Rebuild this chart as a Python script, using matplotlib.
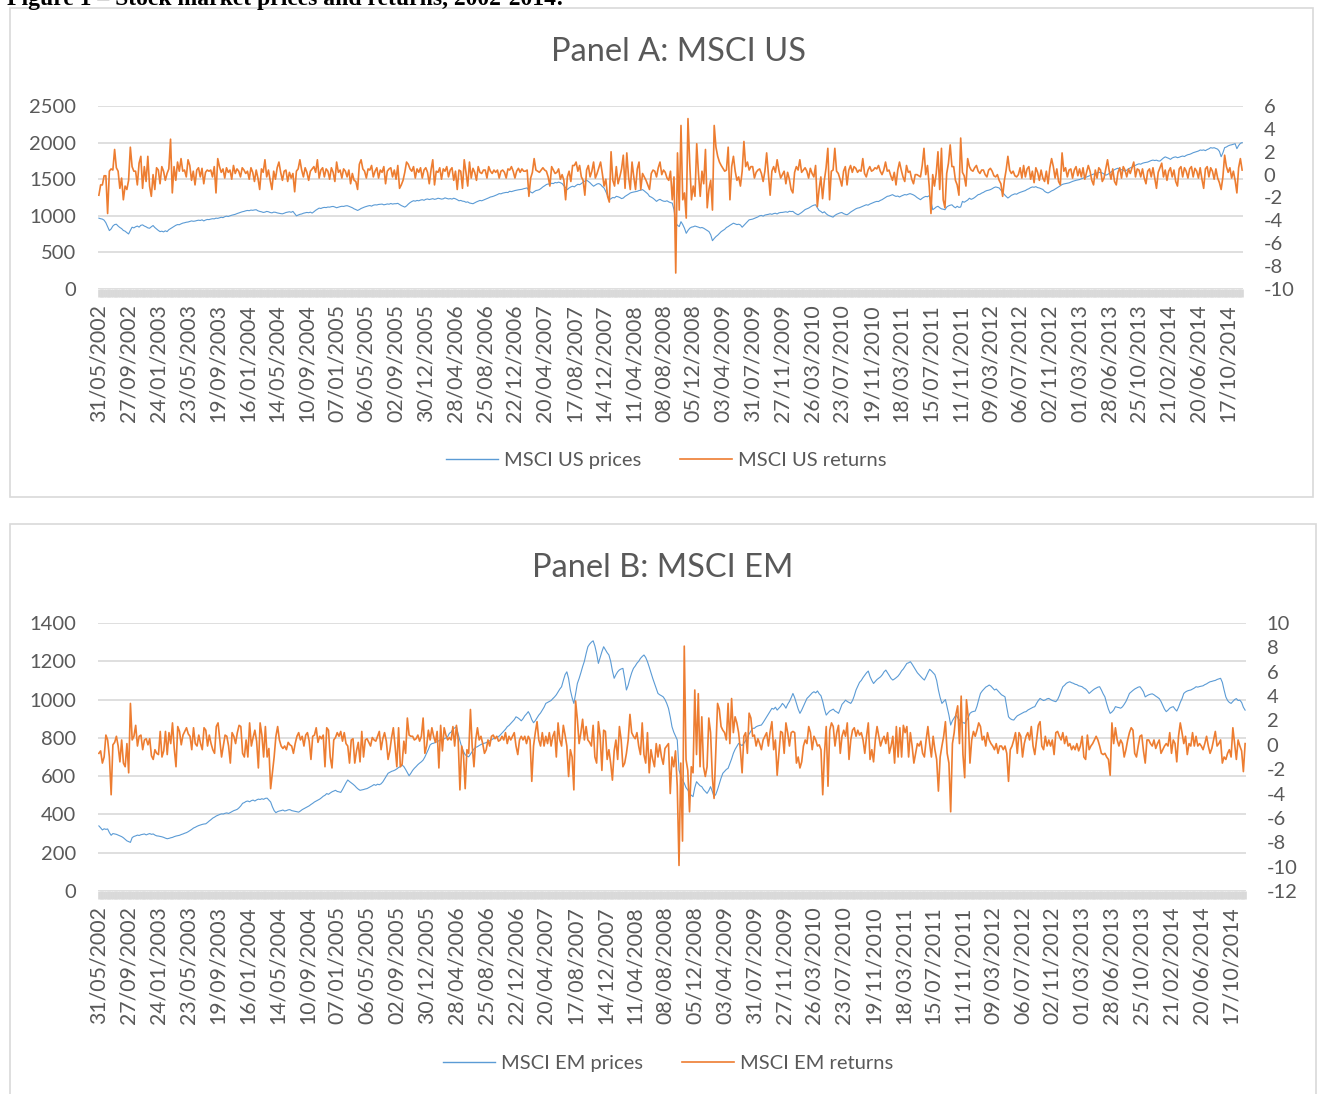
import matplotlib
matplotlib.use('Agg')
import matplotlib.pyplot as plt
from matplotlib.patches import Rectangle
from matplotlib.lines import Line2D
import numpy as np

plt.rcParams['font.family'] = ['Lato', 'DejaVu Sans']
plt.rcParams['axes.unicode_minus'] = False

# category labels shown on the x axis (every 17th week)
tick_labels = ['31/05/2002', '27/09/2002', '24/01/2003', '23/05/2003', '19/09/2003',
               '16/01/2004', '14/05/2004', '10/09/2004', '07/01/2005', '06/05/2005',
               '02/09/2005', '30/12/2005', '28/04/2006', '25/08/2006', '22/12/2006',
               '20/04/2007', '17/08/2007', '14/12/2007', '11/04/2008', '08/08/2008',
               '05/12/2008', '03/04/2009', '31/07/2009', '27/11/2009', '26/03/2010',
               '23/07/2010', '19/11/2010', '18/03/2011', '15/07/2011', '11/11/2011',
               '09/03/2012', '06/07/2012', '02/11/2012', '01/03/2013', '28/06/2013',
               '25/10/2013', '21/02/2014', '20/06/2014', '17/10/2014']
tick_step = 17

# weekly MSCI US prices
us_prices = [
    968, 960, 955, 940, 905, 850, 798, 820, 860, 880, 885, 860, 840, 825, 800, 790, 770,
    752, 800, 844, 835, 850, 860, 845, 870, 876, 860, 850, 835, 830, 850, 867, 840, 820,
    800, 784, 790, 780, 795, 784, 810, 825, 840, 855, 870, 880, 878, 890, 900, 905, 912,
    915, 922, 930, 925, 928, 935, 940, 936, 945, 930, 942, 950, 948, 955, 960, 958, 968,
    965, 972, 980, 975, 988, 995, 990, 1000, 1008, 1014, 1020, 1030, 1038, 1045, 1055, 1060, 1068,
    1073, 1070, 1078, 1075, 1080, 1083, 1068, 1060, 1055, 1046, 1050, 1060, 1055, 1045, 1040, 1050, 1048,
    1040, 1035, 1030, 1027, 1035, 1045, 1050, 1055, 1048, 1060, 1030, 1000, 1010, 1020, 1025, 1035, 1040,
    1046, 1042, 1050, 1037, 1055, 1075, 1090, 1105, 1100, 1110, 1115, 1112, 1120, 1118, 1125, 1128, 1120,
    1110, 1118, 1125, 1130, 1128, 1135, 1138, 1130, 1120, 1110, 1095, 1085, 1073, 1085, 1100, 1110, 1120,
    1128, 1135, 1140, 1132, 1145, 1150, 1148, 1155, 1158, 1160, 1150, 1155, 1162, 1158, 1168, 1160, 1165,
    1165, 1170, 1155, 1140, 1130, 1119, 1135, 1160, 1180, 1195, 1206, 1200, 1210, 1205, 1215, 1220, 1212,
    1225, 1230, 1222, 1228, 1234, 1225, 1230, 1240, 1235, 1228, 1232, 1245, 1238, 1230, 1235, 1228, 1240,
    1232, 1220, 1205, 1210, 1200, 1197, 1185, 1190, 1175, 1170, 1165, 1178, 1190, 1200, 1210, 1205, 1215,
    1225, 1235, 1245, 1257, 1262, 1270, 1280, 1290, 1303, 1300, 1310, 1315, 1320, 1318, 1335, 1330, 1338,
    1345, 1350, 1355, 1358, 1362, 1370, 1375, 1381, 1340, 1325, 1312, 1330, 1345, 1350, 1358, 1375, 1395,
    1410, 1427, 1435, 1430, 1445, 1440, 1455, 1450, 1460, 1452, 1440, 1410, 1385, 1358, 1380, 1395, 1404,
    1395, 1415, 1430, 1425, 1440, 1460, 1475, 1486, 1470, 1450, 1425, 1404, 1420, 1435, 1440, 1427, 1400,
    1380, 1330, 1275, 1220, 1235, 1250, 1245, 1266, 1260, 1250, 1235, 1243, 1265, 1280, 1295, 1312, 1320,
    1325, 1330, 1335, 1345, 1350, 1358, 1340, 1320, 1300, 1266, 1255, 1240, 1220, 1197, 1215, 1225, 1210,
    1200, 1197, 1205, 1190, 1180, 1174, 1083, 899, 870, 853, 920, 880, 830, 761, 800, 830, 845,
    850, 860, 853, 845, 835, 840, 830, 815, 800, 784, 740, 660, 690, 716, 735, 760, 784,
    800, 815, 840, 853, 870, 885, 899, 890, 880, 885, 875, 844, 870, 895, 920, 945, 950,
    955, 965, 975, 985, 1000, 1005, 995, 1010, 1015, 1020, 1027, 1020, 1030, 1035, 1025, 1040, 1045,
    1046, 1050, 1055, 1048, 1062, 1058, 1060, 1040, 1025, 1014, 1030, 1045, 1065, 1085, 1095, 1105, 1120,
    1135, 1145, 1151, 1110, 1073, 1060, 1040, 1055, 1030, 1010, 1000, 990, 982, 1005, 1020, 1030, 1040,
    1045, 1030, 1020, 1014, 1030, 1050, 1065, 1080, 1095, 1105, 1110, 1120, 1130, 1140, 1151, 1145, 1160,
    1170, 1180, 1190, 1197, 1195, 1210, 1220, 1235, 1250, 1266, 1270, 1280, 1289, 1275, 1265, 1270, 1257,
    1270, 1280, 1290, 1285, 1295, 1303, 1295, 1285, 1270, 1250, 1235, 1220, 1240, 1255, 1265, 1260, 1275,
    1200, 1083, 1100, 1120, 1130, 1110, 1095, 1090, 1083, 1120, 1135, 1145, 1150, 1125, 1110, 1130, 1115,
    1120, 1197, 1185, 1200, 1215, 1240, 1225, 1235, 1250, 1270, 1289, 1295, 1310, 1320, 1335, 1345, 1350,
    1358, 1370, 1385, 1394, 1388, 1380, 1350, 1320, 1290, 1265, 1243, 1260, 1280, 1290, 1300, 1295, 1310,
    1320, 1328, 1335, 1345, 1360, 1370, 1385, 1394, 1390, 1398, 1385, 1380, 1370, 1360, 1335, 1320, 1312,
    1325, 1340, 1350, 1365, 1380, 1395, 1410, 1427, 1435, 1440, 1445, 1450, 1460, 1470, 1478, 1485, 1490,
    1495, 1505, 1515, 1520, 1530, 1540, 1550, 1560, 1570, 1578, 1585, 1590, 1596, 1585, 1570, 1555, 1564,
    1580, 1600, 1615, 1630, 1642, 1650, 1640, 1630, 1620, 1610, 1624, 1640, 1655, 1665, 1680, 1690, 1702,
    1710, 1705, 1718, 1725, 1730, 1734, 1745, 1755, 1761, 1755, 1760, 1750, 1748, 1770, 1790, 1805, 1795,
    1785, 1771, 1790, 1800, 1805, 1794, 1800, 1810, 1816, 1810, 1825, 1835, 1840, 1850, 1862, 1870, 1878,
    1885, 1899, 1895, 1900, 1890, 1905, 1915, 1931, 1925, 1930, 1920, 1910, 1880, 1807, 1860, 1931, 1940,
    1955, 1965, 1970, 1977, 1985, 1917, 1960, 1990, 2000,
]

# weekly MSCI US returns
us_returns = [
    -1.8, -0.9, -0.9, -0.1, -0.1, -3.4, 0.3, 0.5, 0.4, 2.2, 0.6, 0.3, -1.2, -0.3, -2.2, -1.0, -1.3,
    -0.5, 2.4, 0.7, 0.3, 0.3, -0.9, 1.0, 1.6, -1.2, 0.7, -0.6, 1.6, -1.0, -1.9, 0.0, -1.3, 0.6,
    0.4, -0.8, 0.7, 0.3, -0.5, 0.1, 0.5, 3.1, -1.6, 0.7, -0.5, 1.1, 0.3, 1.4, 0.3, 0.4, -0.2,
    1.3, 0.8, -0.5, 0.3, -0.9, 0.4, 0.6, -0.2, 0.55, -0.8, 0.2, 0.4, 0.3, 0.4, -0.2, 0.7, -1.6,
    1.4, 0.7, 0.2, 0.5, -0.3, 0.6, 0.2, 0.4, -0.4, 0.8, 0.1, 0.5, 0.3, -0.2, 0.6, 0.4, 0.1,
    0.3, -0.4, 0.6, 0.2, -0.6, 0.4, -0.3, -1.3, 0.5, 0.2, 1.3, -0.2, 0.4, -0.5, -1.3, 0.3, -0.4,
    0.6, 1.1, 0.2, -0.5, 0.3, 0.4, -0.6, 0.2, -0.3, 0.1, -1.5, 0.3, 0.5, 1.3, 0.4, -0.2, 0.6,
    0.2, -0.5, 0.3, 0.5, 0.7, 0.2, 1.3, -0.3, 0.4, 0.6, -0.2, 0.5, 0.3, -0.4, 0.6, 0.2, -0.6,
    1.1, 0.2, 0.4, -0.3, 0.5, 0.3, -0.2, 0.4, -0.8, 0.1, -0.5, -0.6, -1.3, 0.9, 1.3, 0.5, 0.3,
    -0.3, 0.5, 0.4, 0.8, -0.2, 0.3, 0.6, -0.3, 0.4, 0.2, 0.7, -0.8, 0.3, 0.5, 0.6, -0.2, 0.4,
    -0.4, 0.8, -1.2, -0.9, -0.5, 0.2, 1.1, 0.9, 0.5, 0.3, 0.7, -0.3, 0.5, 0.2, 0.6, -0.3, 0.4,
    0.6, 0.2, -0.8, 0.4, 1.3, -0.9, 0.3, 0.2, 0.6, -0.4, 0.5, 0.3, 0.7, -0.2, 0.4, 0.6, -0.5,
    0.3, -1.3, 0.4, 0.3, -1.2, 1.3, 0.2, -1.0, 1.1, -0.3, 0.55, 0.2, -0.5, 0.7, 0.2, 0.1, 0.4,
    0.4, -0.3, 0.7, 0.3, 0.1, 0.4, 0.2, 0.4, -0.3, 0.3, 0.4, 0.2, -0.3, 0.5, 0.4, 0.7, 0.3,
    -0.3, 0.3, 0.55, 0.2, 0.5, 0.3, 0.3, 0.4, -1.9, -0.3, 0.2, 1.4, 0.4, 0.3, 0.2, 0.4, 0.6,
    0.4, 0.3, -0.2, -1.0, 0.7, 0.4, 0.1, 0.2, 0.5, -0.4, 0.0, -0.5, -2.2, -0.2, 0.3, -0.6, 0.8,
    0.8, 1.1, 0.3, 0.8, -0.2, -0.5, -1.8, 0.4, 0.8, -0.2, 0.3, 1.1, -0.3, 0.1, 0.6, 1.1, 0.1,
    -1.0, -0.4, -1.9, -2.4, 2.0, -0.5, -1.0, 0.7, -0.8, -0.2, 0.5, 1.7, -1.2, 1.9, -0.2, -1.3, 1.1,
    -0.2, -1.3, 0.5, 1.1, -1.3, 0.1, -0.2, -0.5, -0.9, -1.3, 0.1, 0.4, 0.3, -0.2, 0.6, 1.1, 0.0,
    0.4, 0.2, -0.3, -0.5, 0.3, -2.2, -0.2, -8.6, 1.9, -3.1, 4.3, -2.2, -1.6, -3.8, 4.9, 1.0, -2.2,
    -1.0, -1.9, 2.7, 0.1, -1.9, 0.3, -0.8, 2.2, -2.9, -1.3, -0.5, -3.1, 4.3, 2.4, 1.6, 1.1, 0.8,
    0.55, 0.3, 0.4, 2.4, -2.2, 0.7, 1.6, 0.3, -0.5, -0.2, -1.0, 0.3, 2.9, 0.7, 1.1, 0.4, 0.7,
    0.7, -0.3, 0.2, 0.4, 0.5, 0.1, -0.6, 0.3, 1.9, 0.0, -1.8, 0.3, 0.7, 0.2, 1.3, 0.4, -0.3,
    0.0, 0.3, -0.8, 0.2, -0.4, -1.3, -1.6, 0.2, 0.7, 0.4, 1.3, 0.2, 0.4, 0.6, 0.3, -0.3, 0.55,
    0.1, -0.2, 0.8, -2.8, -1.3, -0.2, -2.1, -0.5, 0.6, 2.3, -2.2, 0.3, 0.4, 2.3, 0.3, 0.1, -0.4,
    -1.0, 0.3, 0.7, -0.9, 0.4, 0.8, 0.2, 0.7, 0.55, 0.2, 0.4, 0.3, 1.4, 0.1, -0.2, 0.4, 0.7,
    0.3, 0.4, 0.6, 0.5, 0.8, 0.3, 0.0, 0.4, 1.1, 0.3, 0.4, -0.1, -0.5, 0.2, -0.9, 0.4, 1.1,
    0.4, -0.2, -0.6, 0.8, 0.2, 0.3, -0.4, -0.8, 0.0, 0.0, -0.1, -0.2, 0.8, 2.3, 0.0, 0.8, -1.0,
    -3.4, 0.0, -1.0, 0.1, 2.0, -1.3, 2.3, -2.2, -2.9, 0.1, 1.0, 2.6, 0.7, 0.7, -0.5, -0.9, -1.8,
    3.2, 0.2, -0.1, -1.0, 1.4, 0.7, 0.4, 0.3, 0.6, 0.8, 0.3, 0.1, 0.4, 0.4, 0.0, -0.2, 0.4,
    0.55, 0.3, -0.1, -0.2, 0.0, -0.5, -0.8, -1.9, -0.5, 0.4, 1.6, 0.4, 0.1, 0.3, -0.1, -0.2, 0.0,
    0.6, -0.3, 0.8, -0.2, 0.5, 0.7, -0.4, 0.3, -0.7, 0.6, 0.2, -0.5, 0.4, -0.3, -0.6, 0.3, -0.8,
    0.6, 1.4, 0.7, -0.3, 0.5, -0.6, -0.9, 1.9, 0.3, 0.6, -0.2, 0.4, 0.5, -0.3, 0.4, 0.7, -0.1,
    0.5, -0.2, 0.6, -0.4, 0.2, 0.8, 0.3, -0.5, -0.9, 0.4, -0.3, 0.6, 0.4, -0.6, -0.3, 0.5, 1.3,
    0.3, -0.4, 0.5, -0.6, -0.9, 0.2, 0.6, -0.3, 0.7, 0.4, -0.2, 0.5, 0.1, 0.6, 1.1, -0.2, 0.5,
    0.4, -0.2, 0.5, -0.3, -0.8, 0.3, 0.5, -0.2, 0.6, -0.3, -1.2, 0.2, 0.6, 1.0, -0.2, 0.4, -0.5,
    0.3, 0.6, -0.2, 0.4, -0.6, -1.0, 0.5, 0.7, -0.2, 0.6, 0.3, -0.3, 0.5, 0.7, -0.2, 0.55, 0.3,
    -0.3, 0.6, -0.4, -1.2, 0.5, 0.7, -0.2, 0.6, 0.3, -0.4, 0.5, -0.3, -0.7, -1.3, -0.2, 1.7, 0.7,
    0.2, 0.6, -0.3, 0.3, -0.5, -1.6, 0.6, 1.4, 0.4,
]

# weekly MSCI EM prices
em_prices = [
    340, 330, 319, 325, 322, 324, 305, 291, 300, 298, 296, 292, 288, 284, 278, 270, 262,
    258, 254, 279, 285, 288, 292, 290, 294, 296, 298, 293, 297, 300, 296, 298, 292, 288,
    287, 285, 283, 280, 276, 273, 275, 278, 280, 284, 287, 289, 291, 295, 298, 302, 305,
    310, 316, 322, 329, 333, 338, 342, 345, 348, 350, 351, 358, 366, 373, 381, 386, 392,
    396, 400, 403, 402, 406, 408, 405, 410, 415, 420, 423, 427, 435, 445, 458, 462, 468,
    470, 466, 472, 475, 470, 476, 480, 478, 482, 479, 484, 485, 475, 465, 440, 420, 409,
    415, 418, 420, 423, 418, 420, 424, 425, 420, 418, 416, 414, 412, 418, 425, 430, 435,
    440, 445, 452, 458, 465, 470, 475, 480, 487, 495, 500, 509, 505, 512, 518, 522, 526,
    520, 518, 515, 530, 548, 565, 580, 572, 565, 558, 550, 540, 532, 526, 528, 530, 533,
    535, 540, 545, 550, 556, 552, 558, 555, 560, 570, 585, 600, 615, 620, 625, 628, 632,
    638, 645, 650, 658, 650, 635, 618, 602, 615, 630, 641, 650, 660, 668, 675, 684, 700,
    720, 740, 763, 770, 772, 776, 780, 785, 790, 788, 795, 800, 806, 824, 830, 845, 852,
    858, 820, 785, 754, 730, 712, 705, 701, 715, 730, 742, 750, 754, 760, 765, 770, 772,
    775, 780, 785, 790, 795, 800, 803, 806, 815, 825, 835, 845, 858, 865, 875, 885, 895,
    910, 905, 898, 889, 900, 915, 925, 937, 920, 895, 879, 890, 905, 919, 930, 945, 960,
    980, 985, 990, 995, 1005, 1014, 1025, 1040, 1055, 1067, 1100, 1130, 1145, 1110, 1050, 1010, 980,
    1030, 1084, 1110, 1140, 1172, 1200, 1240, 1276, 1290, 1300, 1307, 1280, 1240, 1189, 1220, 1250, 1276,
    1260, 1245, 1233, 1200, 1150, 1111, 1130, 1145, 1155, 1160, 1163, 1110, 1050, 1075, 1110, 1140, 1163,
    1175, 1190, 1200, 1215, 1225, 1233, 1220, 1198, 1170, 1140, 1111, 1085, 1060, 1032, 1025, 1020, 1014,
    1000, 980, 954, 910, 858, 830, 810, 789, 632, 600, 580, 563, 540, 528, 510, 500, 493,
    540, 571, 560, 550, 545, 530, 520, 510, 525, 545, 520, 493, 505, 530, 560, 590, 615,
    625, 635, 641, 665, 690, 719, 740, 755, 771, 765, 760, 771, 785, 800, 820, 835, 850,
    850, 858, 862, 865, 867, 880, 895, 910, 925, 940, 954, 950, 960, 945, 955, 965, 980,
    970, 955, 975, 990, 1010, 1032, 1010, 980, 950, 928, 945, 965, 985, 1006, 1015, 1025, 1035,
    1041, 1035, 1045, 1030, 1020, 990, 950, 919, 930, 940, 945, 950, 940, 935, 928, 950, 975,
    985, 997, 990, 985, 980, 995, 1020, 1050, 1070, 1090, 1100, 1115, 1128, 1140, 1149, 1120, 1100,
    1084, 1095, 1105, 1112, 1119, 1130, 1145, 1154, 1140, 1125, 1110, 1102, 1108, 1115, 1123, 1135, 1150,
    1160, 1175, 1189, 1192, 1198, 1185, 1170, 1154, 1140, 1130, 1120, 1110, 1102, 1120, 1140, 1158, 1150,
    1140, 1130, 1100, 1050, 1010, 980, 990, 1000, 960, 919, 867, 890, 905, 919, 905, 893, 885,
    880, 876, 890, 905, 928, 935, 938, 940, 965, 1000, 1032, 1045, 1055, 1065, 1070, 1076, 1070,
    1060, 1050, 1055, 1045, 1035, 1025, 1020, 1014, 960, 910, 900, 895, 893, 905, 915, 920, 925,
    930, 935, 937, 945, 950, 955, 960, 963, 980, 995, 1006, 1000, 995, 998, 1004, 1006, 1000,
    995, 992, 989, 1000, 1020, 1045, 1067, 1075, 1085, 1090, 1093, 1088, 1085, 1080, 1078, 1072, 1070,
    1067, 1060, 1055, 1045, 1032, 1040, 1048, 1055, 1060, 1065, 1067, 1050, 1030, 1014, 980, 950, 928,
    935, 945, 963, 960, 958, 955, 962, 975, 990, 1010, 1032, 1040, 1048, 1055, 1060, 1065, 1067,
    1055, 1040, 1014, 1020, 1025, 1028, 1030, 1025, 1018, 1012, 1005, 990, 970, 950, 937, 945, 955,
    960, 963, 950, 940, 960, 985, 1005, 1032, 1040, 1045, 1048, 1050, 1055, 1060, 1067, 1065, 1068,
    1070, 1072, 1078, 1082, 1088, 1093, 1095, 1098, 1100, 1105, 1108, 1111, 1090, 1050, 1014, 995, 985,
    980, 990, 1000, 1005, 995, 997, 985, 960, 945,
]

# weekly MSCI EM returns
em_returns = [
    -0.7, -0.5, -1.5, -1.0, 0.8, 0.4, -1.0, -4.1, 0.0, 0.2, 0.7, -0.1, -1.4, 0.4, -1.5, -1.8, 0.1,
    -2.3, 3.4, 0.4, 0.7, 1.6, -0.1, 0.7, 0.8, -0.4, 0.4, 0.5, 0.0, 0.5, -0.9, -1.2, -0.4, -0.7,
    -0.8, 1.1, -1.0, -0.5, 1.1, -0.8, 1.0, 0.1, 1.8, -0.3, -1.8, 1.5, 1.1, 0.0, 0.8, 1.1, 1.4,
    0.9, 0.7, -0.4, 1.4, 0.1, -0.1, 0.8, 0.1, -0.4, 1.4, 1.2, -0.1, 0.8, 0.1, -0.4, -0.7, 1.5,
    1.8, 0.4, -1.0, -0.1, 0.8, 0.7, -0.1, -1.5, 1.0, 0.7, 0.1, 1.0, 1.6, 1.5, -0.7, -1.0, 0.4,
    -1.0, 1.8, -0.1, 0.6, 1.2, 0.3, -1.9, 1.8, 0.8, -1.0, 1.5, -1.0, -0.3, -3.6, -2.3, -1.0, 0.7,
    1.5, 0.4, -0.1, -0.3, -0.1, -0.4, 0.2, 0.0, -0.1, -0.7, 0.1, 0.7, 1.0, 0.4, 0.7, -0.1, 0.8,
    1.0, 0.3, -1.2, 0.7, 0.8, 1.4, 0.2, 0.7, 0.5, 0.8, -1.8, 1.4, 1.2, -1.0, -1.9, 0.4, 0.6,
    1.0, 0.7, 1.1, 0.3, 1.0, 0.1, -0.1, -1.5, 0.4, 0.5, -1.5, -0.5, 0.2, -1.4, 1.1, -1.0, 0.4,
    0.5, 0.2, -0.1, 0.6, 0.4, 0.3, 0.7, 1.1, -0.4, 0.5, 1.0, 0.3, -1.2, -0.5, 0.6, 1.4, -0.1,
    -1.8, 1.4, -1.8, -1.6, 0.3, -0.7, 2.2, 0.8, 0.7, 0.7, 0.4, 0.5, 0.8, 0.3, 0.7, 2.2, -0.7,
    -0.1, 1.2, 0.4, 1.4, 0.7, 0.2, 1.1, -1.9, 1.6, -0.5, 1.4, 0.8, 0.4, 0.6, 0.4, 1.5, -0.1,
    1.6, 0.4, -3.7, -0.1, -0.8, -3.6, -0.4, -0.7, 2.9, -0.1, -1.8, 0.4, 1.4, 0.4, 0.7, 0.1, -0.7,
    -0.4, 0.4, -0.1, 0.7, 0.8, 0.5, 0.7, 0.3, 0.4, 0.7, 0.4, 1.0, 0.1, 0.7, 0.4, 0.7, 1.0,
    -0.1, -0.8, 0.4, 0.7, 0.4, 0.7, 0.1, 0.7, 0.4, -3.0, -0.1, 1.0, 1.9, 0.4, -0.1, 1.0, -0.1,
    0.7, 0.1, 1.0, -0.1, 0.7, 1.1, -1.0, 1.8, 0.4, -0.1, 1.6, 0.8, -0.1, -2.6, -0.4, -1.0, -3.7,
    3.6, 2.1, 0.1, 1.0, 2.1, 0.4, 1.5, 0.4, 0.2, -0.1, 1.6, -1.0, -1.5, 1.9, 0.7, -2.1, 1.2,
    1.1, -1.2, -0.4, -1.5, -2.9, -0.5, 0.4, -1.2, 1.5, 0.4, -1.8, -1.5, -0.7, 0.4, 2.5, 1.0, 0.7,
    0.5, 1.0, -0.1, -0.8, 1.8, -0.8, -1.5, 1.0, -2.3, -0.4, -1.2, -1.8, 0.1, -1.0, 0.0, -1.0, -1.6,
    -0.3, -0.1, 0.1, -4.0, -1.0, -1.8, -0.5, -3.4, -9.9, -1.5, -7.9, 8.1, -1.2, -2.1, -5.5, -1.8, -2.3,
    4.5, -0.8, 4.2, -1.8, 2.3, -1.8, -2.6, -1.8, 2.2, 1.0, -2.6, -4.4, -0.4, 3.4, 2.9, 1.5, 1.2,
    1.0, 0.4, 3.4, 0.1, 3.8, 1.0, 2.3, 1.8, 1.0, -0.4, -2.3, 0.7, 1.0, -0.7, 2.6, 2.2, 0.7,
    0.8, -0.1, 0.5, 0.1, -0.4, 0.4, 0.7, 1.0, -0.1, 1.1, 1.9, -0.4, 0.4, -2.5, -0.7, 1.1, 1.0,
    -0.7, 1.8, 1.0, -0.1, 1.0, 1.1, 1.0, -1.5, -1.0, -1.9, -1.4, -0.1, 0.4, 0.1, 1.5, 1.0, -0.4,
    0.7, 0.4, -0.1, 0.0, -0.4, -4.1, -0.7, 1.5, -3.4, 1.2, 1.8, 1.5, -0.1, 1.0, 1.6, -0.7, 0.7,
    1.2, 0.7, 1.8, -1.2, 0.4, 1.2, 1.4, 0.7, 1.2, 0.8, 1.0, 0.4, -0.7, 0.7, 1.8, -1.2, -0.4,
    -1.4, 0.4, 1.5, 0.7, -0.1, 0.4, 0.7, 0.1, 1.0, -0.7, -0.1, 0.7, -1.5, 1.5, -1.0, 1.4, -1.0,
    1.6, 1.0, 1.5, -1.0, 1.0, -0.1, -1.5, -0.7, 0.1, -0.1, 0.3, -0.7, -1.0, 0.4, 1.5, 0.1, -1.0,
    0.7, -0.4, -1.2, -3.8, -1.0, -0.1, 0.7, 1.9, -0.7, -1.5, -5.5, 0.1, 1.0, 2.5, 3.2, 0.1, 4.0,
    -0.8, -2.7, 3.7, 2.3, -1.5, 0.4, 1.1, 0.7, 1.2, 1.8, 1.5, 0.4, 0.7, -0.1, 1.0, 0.4, 0.1,
    -0.1, -0.4, 0.1, -0.7, -0.1, -0.1, -0.4, -0.1, -0.7, -3.0, -0.4, -0.1, 0.4, 1.0, -0.7, 1.0, 0.7,
    -1.0, 0.1, 0.7, 1.0, 0.4, 1.5, -0.1, -0.8, 0.4, 1.6, 1.9, -0.1, -0.4, 0.7, -0.1, 0.4, -0.1,
    0.4, -0.8, 1.0, 1.1, 0.7, 0.4, 1.0, 0.1, 0.7, -0.1, 0.1, -0.4, -0.1, -0.4, 0.1, -0.5, -0.1,
    0.7, -1.0, -1.2, 0.8, -0.4, -0.1, 0.1, 0.4, 0.7, 0.4, -0.1, -0.7, -0.8, -0.7, -1.0, -1.2, -2.5,
    1.8, 0.1, 1.4, 0.4, -0.1, 0.4, 0.1, -1.0, -0.4, 0.4, 1.0, 1.4, 1.2, -0.7, -1.0, -0.1, 0.7,
    0.8, -0.5, -1.5, 0.4, 0.4, 0.1, -0.1, 0.4, -0.3, 0.1, 0.4, -0.7, -0.4, -0.1, 0.1, -0.1, 1.0,
    -0.7, 0.4, 0.1, -1.4, 0.7, 1.8, 1.0, 0.1, 0.7, -0.8, 0.1, -0.1, 1.0, -0.1, 0.7, -0.1, 0.1,
    -0.1, -0.4, 0.1, 0.7, -0.1, -0.7, -0.3, 0.4, 1.1, -0.1, 0.1, 0.4, -1.5, -1.0, -1.2, -0.7, -0.4,
    -1.0, 1.4, 0.1, -1.2, 0.4, -0.1, -0.5, -2.2, 0.1,
]

BLUE = '#5B9BD5'
ORANGE = '#ED7D31'
GRID = '#D9D9D9'
TXT = '#595959'
FS = 14.5

W, H = 1319, 1094
fig = plt.figure(figsize=(W / 100, H / 100), dpi=100)


def fx(px):
    return px / W


def fy(py):
    return 1 - py / H


def draw_panel(left, right, top, bottom, title, title_x, title_y, prices, returns,
               names, ylim_l, yticks_l, ylim_r, yticks_r, legend_x, legend_y):
    ax = fig.add_axes([fx(left), fy(bottom), fx(right - left), (bottom - top) / H])
    n = len(prices)
    ax.plot(np.arange(n), prices, color=BLUE, lw=0.8, zorder=3)
    ax.set_xlim(-0.5, n - 0.5)
    ax.set_ylim(*ylim_l)
    ax.set_yticks(yticks_l)
    ax.yaxis.grid(True, color=GRID, lw=1.2)
    ax.set_axisbelow(True)
    for s in ax.spines.values():
        s.set_visible(False)
    ax.tick_params(axis='y', length=0, pad=16, labelsize=FS, labelcolor=TXT)

    # category axis: a mark for every week forms the grey band, labels every 17 weeks
    ax.set_xticks(np.arange(0, n, tick_step)[:len(tick_labels)])
    ax.set_xticklabels(tick_labels, rotation=90, fontsize=15.3, color=TXT)
    ax.set_xticks(np.arange(n), minor=True)
    ax.xaxis.remove_overlapping_locs = False
    ax.tick_params(axis='x', which='major', length=0, pad=11)
    ax.tick_params(axis='x', which='minor', length=6, width=1.9, color=GRID)

    ax2 = ax.twinx()
    ax2.plot(np.arange(len(returns)), returns, color=ORANGE, lw=1.2)
    ax2.set_ylim(*ylim_r)
    ax2.set_yticks(yticks_r)
    for s in ax2.spines.values():
        s.set_visible(False)
    ax2.tick_params(axis='y', length=0, pad=15, labelsize=FS, labelcolor=TXT)

    fig.text(fx(title_x), fy(title_y), title, ha='center', va='center',
             fontsize=23.5, color=TXT)

    handles = [Line2D([], [], color=BLUE, lw=1.0), Line2D([], [], color=ORANGE, lw=1.2)]
    leg = fig.legend(handles, names, loc='center', bbox_to_anchor=(fx(legend_x), fy(legend_y)),
                     ncol=2, frameon=False, fontsize=FS, handlelength=2.6,
                     handletextpad=0.3, columnspacing=1.9)
    for t in leg.get_texts():
        t.set_color(TXT)


draw_panel(98, 1243, 106, 289, 'Panel A: MSCI US', 679, 52, us_prices, us_returns,
           ['MSCI US prices', 'MSCI US returns'],
           (0, 2500), [0, 500, 1000, 1500, 2000, 2500],
           (-10, 6), [-10, -8, -6, -4, -2, 0, 2, 4, 6], 666, 460)

draw_panel(98, 1246, 623, 891, 'Panel B: MSCI EM', 663, 568, em_prices, em_returns,
           ['MSCI EM prices', 'MSCI EM returns'],
           (0, 1400), [0, 200, 400, 600, 800, 1000, 1200, 1400],
           (-12, 10), [-12, -10, -8, -6, -4, -2, 0, 2, 4, 6, 8, 10], 668, 1063)

# chart-area borders
fig.patches.append(Rectangle((fx(10), fy(497)), fx(1303), 489 / H, transform=fig.transFigure,
                             fill=False, ec=GRID, lw=1.2))
fig.patches.append(Rectangle((fx(10), fy(1110)), fx(1306), 586 / H, transform=fig.transFigure,
                             fill=False, ec=GRID, lw=1.2))

# figure caption, cut off at the top edge
fig.text(fx(7), fy(5), 'Figure 1 \u2013 Stock market prices and returns, 2002-2014:',
         family=['Liberation Serif', 'DejaVu Serif'], weight='bold', fontsize=17,
         ha='left', va='baseline')

fig.savefig('out.png', dpi=100)
